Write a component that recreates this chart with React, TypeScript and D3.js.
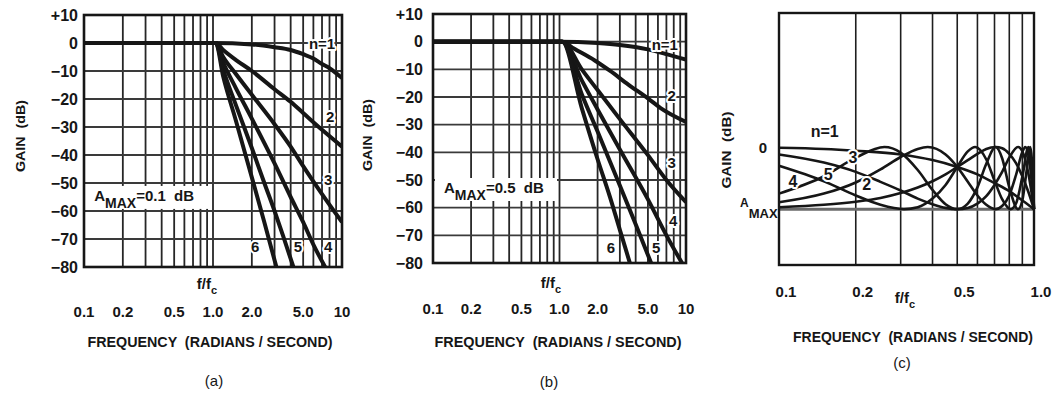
import * as d3 from "d3";

const W = 1053;
const H = 396;
const FONT = "'Liberation Sans', Arial, Helvetica, sans-serif";
const INK = "#161616";

type Pt = [number, number];
type Tag = { text: string; f: number; g: number };

// shared axes of panels (a) and (b)
const freqTicksAB = [0.1, 0.2, 0.5, 1, 2, 5, 10];
const freqLabelsAB = ["0.1", "0.2", "0.5", "1.0", "2.0", "5.0", "10"];
const gainTicksAB = [10, 0, -10, -20, -30, -40, -50, -60, -70, -80];
const gainLabelsAB = ["+10", "0", "−10", "−20", "−30", "−40", "−50", "−60", "−70", "−80"];

// panel (a): A_MAX = 0.1 dB  [f/fc, gain dB]
const gainA1: Pt[] = [[0.1, 0], [1, 0], [2, -0.5], [3, -1.5], [4, -2.5], [5, -4], [6, -5.5], [7, -7.5], [8, -9], [10, -12.5]];
const gainA2: Pt[] = [[0.1, 0], [1.05, 0], [1.2, -2.5], [1.5, -6], [2, -10], [3, -16.5], [4, -21], [5, -25], [7, -31], [10, -37]];
const gainA3: Pt[] = [[0.1, 0], [1.05, 0], [1.2, -5], [1.5, -11], [2, -18.5], [3, -29], [4, -37], [5, -44], [7, -54], [10, -64]];
const gainA4: Pt[] = [[0.1, 0], [1.05, 0], [1.2, -7], [1.5, -16], [2, -27], [3, -43], [4, -55], [5, -64], [6, -72], [7.4, -80]];
const gainA5: Pt[] = [[0.1, 0], [1.05, 0], [1.2, -9.5], [1.5, -22], [2, -37.5], [2.5, -50], [3, -60], [3.5, -69], [4.2, -80]];
const gainA6: Pt[] = [[0.1, 0], [1.05, 0], [1.2, -12], [1.5, -27.5], [2, -48], [2.5, -64], [3.1, -80]];
const tagsA: Tag[] = [
  { text: "n=1", f: 7.0, g: -2.1 },
  { text: "2", f: 8.1, g: -28.2 },
  { text: "3", f: 7.8, g: -50.7 },
  { text: "4", f: 7.8, g: -74.6 },
  { text: "5", f: 4.56, g: -74.6 },
  { text: "6", f: 2.12, g: -74.6 },
];

// panel (b): A_MAX = 0.5 dB
const gainB1: Pt[] = [[0.1, 0], [1, 0], [2, -0.5], [3, -1.2], [5, -2.8], [7, -4.5], [10, -6.5]];
const gainB2: Pt[] = [[0.1, 0], [1.05, 0], [1.3, -2.5], [1.9, -6.8], [2.5, -10.5], [3.5, -15.5], [5, -20.5], [6.3, -24], [10, -29]];
const gainB3: Pt[] = [[0.1, 0], [1.05, 0], [1.5, -10], [2, -17.5], [3, -28], [5, -41], [7, -50], [10, -58]];
const gainB4: Pt[] = [[0.1, 0], [1.05, 0], [1.5, -14], [2, -24.5], [3, -39], [5, -57], [7, -70], [9.3, -80]];
const gainB5: Pt[] = [[0.1, 0], [1.05, 0], [1.5, -19], [2, -32.5], [3, -52], [4, -66], [5.3, -80]];
const gainB6: Pt[] = [[0.1, 0], [1.05, 0], [1.5, -24], [2, -42.5], [2.5, -56], [3, -68], [3.6, -80]];
const tagsB: Tag[] = [
  { text: "n=1", f: 6.8, g: -3.0 },
  { text: "2", f: 7.7, g: -21.4 },
  { text: "3", f: 7.7, g: -45.6 },
  { text: "4", f: 7.9, g: -66.6 },
  { text: "5", f: 5.8, g: -76.4 },
  { text: "6", f: 2.55, g: -76.4 },
];

// panel (c): passband ripple, gain in units of A_MAX (0 .. -1)
const freqTicksC = [0.1, 0.2, 0.5, 1];
const freqLabelsC = ["0.1", "0.2", "0.5", "1.0"];
const rippleC1: Pt[] = [[0.1, -0.01], [0.15, -0.03], [0.2, -0.06], [0.3, -0.12], [0.4, -0.21], [0.5, -0.32], [0.6, -0.44], [0.7, -0.58], [0.8, -0.71], [0.9, -0.86], [1, -1]];
const rippleC2: Pt[] = [[0.1, -0.97], [0.15, -0.93], [0.2, -0.88], [0.25, -0.82], [0.3, -0.74], [0.35, -0.65], [0.4, -0.55], [0.45, -0.44], [0.5, -0.32], [0.55, -0.21], [0.6, -0.11], [0.65, -0.03], [0.707, 0], [0.75, -0.02], [0.8, -0.11], [0.85, -0.26], [0.9, -0.47], [0.95, -0.72], [1, -1]];
const rippleC3: Pt[] = [[0.1, -0.12], [0.15, -0.25], [0.2, -0.4], [0.25, -0.56], [0.3, -0.7], [0.35, -0.83], [0.4, -0.92], [0.45, -0.98], [0.5, -1], [0.55, -0.98], [0.6, -0.91], [0.65, -0.79], [0.7, -0.61], [0.75, -0.4], [0.8, -0.17], [0.866, 0], [0.9, -0.07], [0.95, -0.42], [1, -1]];
const rippleC4: Pt[] = [[0.1, -0.89], [0.15, -0.75], [0.2, -0.57], [0.25, -0.36], [0.3, -0.16], [0.35, -0.03], [0.383, 0], [0.45, -0.12], [0.5, -0.32], [0.55, -0.56], [0.6, -0.78], [0.65, -0.93], [0.707, -1], [0.75, -0.95], [0.8, -0.78], [0.85, -0.45], [0.9, -0.08], [0.924, 0], [0.95, -0.12], [0.98, -0.57], [1, -1]];
const rippleC5: Pt[] = [[0.1, -0.3], [0.15, -0.55], [0.2, -0.78], [0.25, -0.93], [0.309, -1], [0.35, -0.97], [0.4, -0.83], [0.45, -0.61], [0.5, -0.32], [0.55, -0.07], [0.588, 0], [0.65, -0.2], [0.7, -0.54], [0.75, -0.84], [0.809, -1], [0.85, -0.91], [0.9, -0.48], [0.951, 0], [0.97, -0.15], [0.99, -0.66], [1, -1]];
const rippleC6: Pt[] = [[0.1, -0.75], [0.15, -0.47], [0.2, -0.17], [0.259, 0], [0.3, -0.09], [0.35, -0.37], [0.4, -0.69], [0.45, -0.92], [0.5, -1], [0.55, -0.91], [0.6, -0.65], [0.65, -0.27], [0.707, 0], [0.75, -0.18], [0.8, -0.65], [0.866, -1], [0.9, -0.86], [0.94, -0.32], [0.966, 0], [0.98, -0.18], [0.99, -0.52], [1, -1]];
const tagsC: Tag[] = [
  { text: "n=1", f: 0.151, g: 0.16 },
  { text: "3", f: 0.195, g: -0.26 },
  { text: "5", f: 0.156, g: -0.53 },
  { text: "4", f: 0.1135, g: -0.645 },
  { text: "2", f: 0.221, g: -0.69 },
];

type Box = { left: number; right: number; top: number; bottom: number };
type Layout = {
  box: Box;
  tickRight: number;
  tickBase: number;
  fc: Pt;
  freq: [number, number, number];
  gain: [number, number, number];
  letter: Pt;
};

const Tagged = ({ t, x, y, size = 15 }: { t: Tag; x: number; y: number; size?: number }) => (
  <text x={x} y={y} textAnchor="middle" fontSize={size} fontWeight="bold" fill={INK}
    stroke="#fff" strokeWidth={4} paintOrder="stroke" strokeLinejoin="round">{t.text}</text>
);

const AxisTexts = ({ L, name }: { L: Layout; name: string }) => (
  <g fontFamily={FONT} fill={INK} fontWeight="bold">
    <text x={L.fc[0]} y={L.fc[1]} textAnchor="middle" fontSize={15}>
      f/f<tspan dy={5} fontSize={11}>c</tspan>
    </text>
    <text x={L.freq[0]} y={L.freq[1]} textAnchor="middle" fontSize={14.5} style={{ whiteSpace: "pre" }}
      textLength={L.freq[2]} lengthAdjust="spacingAndGlyphs">FREQUENCY  (RADIANS / SECOND)</text>
    <text transform={`translate(${L.gain[0]},${L.gain[1]}) rotate(-90)`} textAnchor="middle" style={{ whiteSpace: "pre" }}
      dominantBaseline="central" fontSize={13} textLength={L.gain[2]} lengthAdjust="spacingAndGlyphs">GAIN  (dB)</text>
    <text x={L.letter[0]} y={L.letter[1]} textAnchor="middle" fontSize={15} fontWeight="normal">{name}</text>
  </g>
);

type RolloffProps = { L: Layout; curves: Pt[][]; tags: Tag[]; amax: string; amaxAt: Pt; name: string };

const Rolloff = ({ L, curves, tags, amax, amaxAt, name }: RolloffProps) => {
  const { box } = L;
  const x = d3.scaleLog().domain([0.1, 10]).range([box.left, box.right]);
  const y = d3.scaleLinear().domain([10, -80]).range([box.top, box.bottom]);
  const line = d3.line<Pt>().x((d) => x(d[0])).y((d) => y(d[1])).curve(d3.curveMonotoneX);
  const clip = `clip-${name.replace(/\W/g, "")}`;
  const ax = x(amaxAt[0]);
  const ay = y(amaxAt[1]);

  return (
    <g>
      <defs>
        <clipPath id={clip}>
          <rect x={box.left} y={box.top} width={box.right - box.left} height={box.bottom - box.top} />
        </clipPath>
      </defs>
      {/* grid */}
      {x.ticks().map((v, i) => (
        <line key={"v" + i} x1={x(v)} x2={x(v)} y1={box.top} y2={box.bottom} stroke="#262626" strokeWidth={1.8} />
      ))}
      {gainTicksAB.map((v, i) => (
        <line key={"h" + i} x1={box.left} x2={box.right} y1={y(v)} y2={y(v)} stroke="#3a3a3a" strokeWidth={1.8} />
      ))}
      {/* A_MAX label box */}
      <rect x={box.left + 2} y={ay - 15} width={122} height={23} fill="#fff" />
      <text x={ax} y={ay} fontFamily={FONT} fontWeight="bold" fontSize={15} fill={INK} style={{ whiteSpace: "pre" }}>
        A<tspan dy={7} fontSize={14}>MAX</tspan><tspan dy={-7}>{amax}</tspan>
      </text>
      {/* curves */}
      <g clipPath={`url(#${clip})`}>
        {curves.map((c, i) => (
          <path key={i} d={line(c) ?? ""} fill="none" stroke={INK} strokeWidth={4} strokeLinejoin="round" />
        ))}
      </g>
      <rect x={box.left} y={box.top} width={box.right - box.left} height={box.bottom - box.top}
        fill="none" stroke={INK} strokeWidth={2.6} />
      <g fontFamily={FONT}>
        {tags.map((t, i) => (
          <Tagged key={i} t={t} x={x(t.f)} y={y(t.g)} />
        ))}
      </g>
      {/* tick labels */}
      <g fontFamily={FONT} fontWeight="bold" fill={INK}>
        {gainTicksAB.map((v, i) => (
          <text key={i} x={L.tickRight} y={y(v)} textAnchor="end" dominantBaseline="central" fontSize={16}>
            {gainLabelsAB[i]}
          </text>
        ))}
        {freqTicksAB.map((v, i) => (
          <text key={i} x={x(v)} y={L.tickBase} textAnchor="middle" fontSize={15}>{freqLabelsAB[i]}</text>
        ))}
      </g>
      <AxisTexts L={L} name={name} />
    </g>
  );
};

const Ripple = ({ L }: { L: Layout }) => {
  const { box } = L;
  const x = d3.scaleLog().domain([0.1, 1]).range([box.left, box.right]);
  const y = d3.scaleLinear().domain([2.16, -1.9]).range([box.top, box.bottom]);
  const line = d3.line<Pt>().x((d) => x(d[0])).y((d) => y(d[1])).curve(d3.curveMonotoneX);
  const curves = [rippleC1, rippleC2, rippleC3, rippleC4, rippleC5, rippleC6];

  return (
    <g>
      {x.ticks().map((v, i) => (
        <line key={i} x1={x(v)} x2={x(v)} y1={box.top} y2={box.bottom} stroke="#1e1e1e" strokeWidth={1.6} />
      ))}
      <line x1={box.left} x2={box.right} y1={y(-1)} y2={y(-1)} stroke="#6a6a6a" strokeWidth={3} />
      {curves.map((c, i) => (
        <path key={i} d={line(c) ?? ""} fill="none" stroke={INK} strokeWidth={2.6} strokeLinejoin="round" />
      ))}
      <rect x={box.left} y={box.top} width={box.right - box.left} height={box.bottom - box.top}
        fill="none" stroke={INK} strokeWidth={2.4} />
      <g fontFamily={FONT}>
        {tagsC.map((t, i) => (
          <Tagged key={i} t={t} x={x(t.f)} y={y(t.g)} size={16} />
        ))}
      </g>
      <g fontFamily={FONT} fontWeight="bold" fill={INK}>
        <text x={L.tickRight} y={y(0)} textAnchor="end" dominantBaseline="central" fontSize={15}>0</text>
        <text x={L.tickRight - 27} y={y(-1) - 2} fontSize={12}>
          A<tspan dy={11} fontSize={13}>MAX</tspan>
        </text>
        {freqTicksC.map((v, i) => (
          <text key={i} x={x(v) + 7} y={L.tickBase} textAnchor="middle" fontSize={15}>{freqLabelsC[i]}</text>
        ))}
      </g>
      <AxisTexts L={L} name="(c)" />
    </g>
  );
};

const layoutA: Layout = {
  box: { left: 84, right: 342, top: 15, bottom: 267 },
  tickRight: 78, tickBase: 317, fc: [207, 289], freq: [210, 347, 245], gain: [20, 136, 72], letter: [214, 386],
};
const layoutB: Layout = {
  box: { left: 433, right: 686, top: 14, bottom: 263 },
  tickRight: 423, tickBase: 314, fc: [551, 288], freq: [558, 347, 247], gain: [367, 135, 72], letter: [549, 387],
};
const layoutC: Layout = {
  box: { left: 779, right: 1034, top: 13, bottom: 265 },
  tickRight: 767, tickBase: 297, fc: [905, 303], freq: [913, 342, 240], gain: [726, 150, 77], letter: [902, 368],
};

export default function App() {
  return (
    <svg width={W} height={H} viewBox={`0 0 ${W} ${H}`}
      style={{ position: "absolute", left: 0, top: 0, background: "#fff" }}>
      <rect width={W} height={H} fill="#fff" />
      <Rolloff L={layoutA} name="(a)" amax="=0.1  dB" amaxAt={[0.12, -56.4]}
        curves={[gainA1, gainA2, gainA3, gainA4, gainA5, gainA6]} tags={tagsA} />
      <Rolloff L={layoutB} name="(b)" amax="=0.5  dB" amaxAt={[0.122, -54.7]}
        curves={[gainB1, gainB2, gainB3, gainB4, gainB5, gainB6]} tags={tagsB} />
      <Ripple L={layoutC} />
    </svg>
  );
}
